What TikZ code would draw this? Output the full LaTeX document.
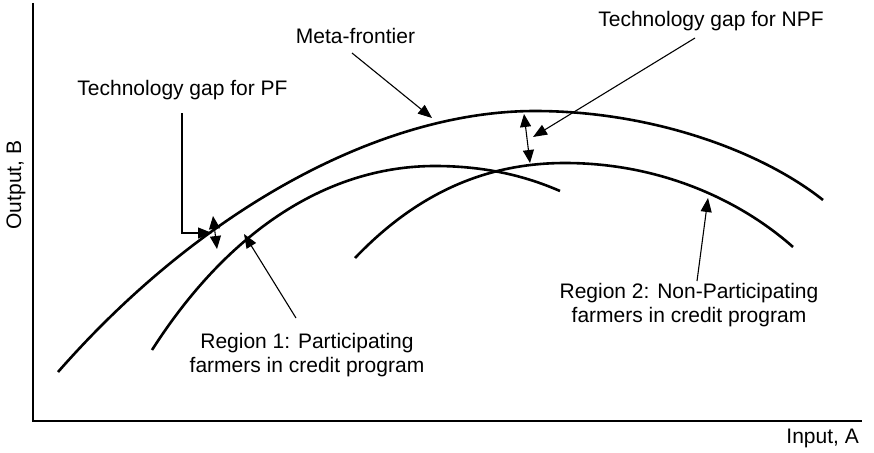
\documentclass[tikz,border=0pt]{standalone}
\usepackage{fontspec}
\setmainfont{Liberation Sans}
\usetikzlibrary{arrows.meta}

\begin{document}
\begin{tikzpicture}[x=1pt,y=-1pt,
    lab/.style={inner sep=1pt,font=\fontsize{21}{24}\selectfont},
    curve/.style={line width=2.6pt},
    pointer/.style={line width=1.1pt,-{Triangle[length=14pt,width=11pt]}},
    gap/.style={line width=1.1pt,{Triangle[length=13pt,width=11pt]}-{Triangle[length=13pt,width=11pt]}}]
    \useasboundingbox (0,0) rectangle (874,452);

    % Axes
    \coordinate (o) at (33,421);
    \draw[line width=1.1pt] (33,3) -- (o) -- (862,421);
    \node[lab,rotate=90] (ylab) at (16,185) {Output, B};
    \node[lab,anchor=base east] (xlab) at (860,443) {Input, A};

    % Frontiers
    \draw[curve] (58,372) .. controls (200,210) and (380,111) .. (535,111)
        .. controls (650,111) and (760,150) .. (823,200);
    \draw[curve] (152,350) .. controls (230,228) and (330,166) .. (435,166)
        .. controls (490,166) and (530,178) .. (560,191);
    \draw[curve] (355,258) .. controls (420,190) and (490,163) .. (565,163)
        .. controls (660,163) and (740,200) .. (793,247);

    % Labels
    \node[lab,anchor=base] (metalab) at (355.5,44) {Meta-frontier};
    \node[lab,anchor=base] (npflab) at (711,27) {Technology gap for NPF};
    \node[lab,anchor=base] (pflab) at (182.5,95) {Technology gap for PF};
    \node[lab,align=center,anchor=north] (reg1lab) at (307,332) {Region 1: Participating\\farmers in credit program};
    \node[lab,align=center,anchor=north] (reg2lab) at (689,282) {Region 2: Non-Participating\\farmers in credit program};

    % Pointers
    \coordinate (mstart) at (352,53);
    \coordinate (mtip) at (432,118);
    \coordinate (nstart) at (695,38);
    \coordinate (ntip) at (533,137);
    \coordinate (pstart) at (182,113);
    \coordinate (pcorner) at (182,233);
    \coordinate (ptip) at (212,233);
    \coordinate (r1start) at (296,318);
    \coordinate (r1tip) at (244,234);
    \coordinate (r2start) at (697,281);
    \coordinate (r2tip) at (708,198);
    \draw[pointer] (mstart) -- (mtip);
    \draw[pointer] (nstart) -- (ntip);
    \draw[pointer] (pstart) -- (pcorner) -- (ptip);
    \draw[pointer] (r1start) -- (r1tip);
    \draw[pointer] (r2start) -- (r2tip);

    % Gaps
    \coordinate (pgtop) at (213,216);
    \coordinate (pgbot) at (217,249);
    \coordinate (ngtop) at (524,114);
    \coordinate (ngbot) at (530,163);
    \draw[gap] (pgtop) -- (pgbot);
    \draw[gap] (ngtop) -- (ngbot);
\end{tikzpicture}
\end{document}
